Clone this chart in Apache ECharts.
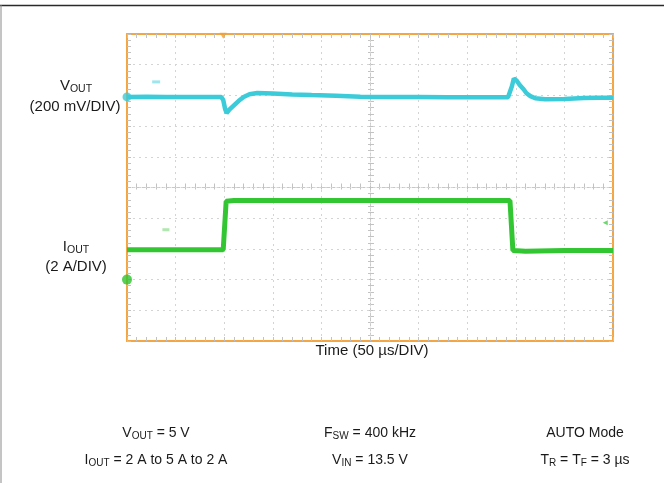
<!DOCTYPE html>
<html><head><meta charset="utf-8">
<script src="https://cdn.jsdelivr.net/npm/echarts@6/dist/echarts.min.js"></script>
<style>html,body{margin:0;padding:0;background:#fff;}#c{width:664px;height:483px;}</style>
</head><body><div id="c"></div>
<script>
// ---- data read from the scope capture (time in µs, 50 µs/div) ----
const voutTime = [0, 20, 40, 60, 80, 97, 99, 101, 102.5, 105, 110, 115, 120, 126, 134, 150, 170, 190, 215, 240, 270, 300, 330, 360, 392, 394, 396, 398, 401, 404, 408, 411, 415, 420, 430, 450, 470, 485, 500];
const voutMv   = [-10, -9, -11, -10, -10, -10, -30, -90, -115, -95, -65, -35, -10, 8, 16, 12, 6, 2, -2, -8, -10, -11, -12, -12, -12, -5, 60, 110, 95, 68, 40, 14, -5, -19, -25, -23, -17, -16, -15];
const ioutTime = [0, 50, 99, 102, 110, 200, 300, 394, 397, 410, 450, 500];
const ioutA    = [1.95, 1.95, 1.95, 5.1, 5.15, 5.15, 5.15, 5.15, 1.9, 1.85, 1.9, 1.9];
// scope markers: [time µs, value]
const voutRefMarker = [0, -10];
const ioutRefMarker = [0, 0];
const voutLevelMark = [30, 88];
const ioutLevelMark = [40, 3.25];
const ioutTrigArrow = [492, 3.7];
const trigPosMark   = [99, 388];
// axis scales
const timeRange = [0, 500], timeStep = 50;
const voutRange = [-1600, 400], voutStep = 200;
const ioutRange = [-4, 16], ioutStep = 2;
// text
const leftLabels = [
  ['{m|V}{s|OUT}', 76, 86], ['{m|(200 mV/DIV)}', 75, 106.5],
  ['{m|I}{s|OUT}', 76, 247], ['{m|(2 A/DIV)}', 76, 267]
];
const xAxisTitle = 'Time (50 µs/DIV)';
const condRow1 = ['{m|V}{s|OUT}{m| = 5 V}', '{m|F}{s|SW}{m| = 400 kHz}', '{m|AUTO Mode}'];
const condRow2 = ['{m|I}{s|OUT}{m| = 2 A to 5 A to 2 A}', '{m|V}{s|IN}{m| = 13.5 V}', '{m|T}{s|R}{m| = T}{s|F}{m| = 3 µs}'];

const F = '"Liberation Sans", Arial, sans-serif';
const ORANGE = '#f2a645', TICK = '#c2c2c2', GRIDC = '#d4d4d4';
const CYAN = '#3ccbd9', GREEN = '#33c633';

function zip(a, b) { return a.map((v, i) => [v, b[i]]); }

function axis(extra, range, step, opts) {
  return Object.assign({
    type: 'value', min: range[0], max: range[1], interval: step,
    axisLabel: { show: false },
    axisLine: { show: true, onZero: false, lineStyle: { color: ORANGE, width: 2 } },
    axisTick: { show: true, inside: true, length: 4, lineStyle: { color: TICK } },
    minorTick: { show: true, splitNumber: 5, length: 4, lineStyle: { color: TICK } },
    splitLine: { show: false },
    z: 1
  }, opts, extra);
}
const gridSplit = { show: true, lineStyle: { color: GRIDC, type: [2, 4], width: 1 } };
const centerLine = { show: true, onZero: false, lineStyle: { color: '#c8c8c8', width: 1, type: [3, 2] } };

const xAxes = [
  axis({ position: 'bottom', splitLine: gridSplit }, timeRange, timeStep),
  axis({ position: 'top' }, timeRange, timeStep),
  axis({ position: 'bottom', offset: -153.5, axisLine: centerLine, z: 0 }, timeRange, timeStep),
  axis({ position: 'bottom', offset: -153.5, axisLine: { show: false }, z: 0,
         axisTick: { show: true, inside: false, length: 2, lineStyle: { color: TICK } },
         minorTick: { show: true, splitNumber: 5, length: 2, lineStyle: { color: TICK } } }, timeRange, timeStep)
];
const yAxes = [
  axis({ position: 'left', splitLine: gridSplit }, voutRange, voutStep),
  axis({ position: 'right' }, ioutRange, ioutStep),
  axis({ position: 'left', offset: -243, axisLine: centerLine, z: 0 }, voutRange, voutStep),
  axis({ position: 'left', offset: -243, axisLine: { show: false }, z: 0,
         axisTick: { show: true, inside: false, length: 2, lineStyle: { color: TICK } },
         minorTick: { show: true, splitNumber: 5, length: 2, lineStyle: { color: TICK } } }, voutRange, voutStep)
];

function richText(text, x, y, size, subSize) {
  return {
    type: 'text', x: x, y: y, z: 10,
    style: {
      text: text, align: 'center', verticalAlign: 'middle',
      textAlign: 'center', textVerticalAlign: 'middle',
      fill: '#1a1a1a',
      rich: {
        m: { fontSize: size, fontFamily: F, fill: '#1a1a1a', color: '#1a1a1a', lineHeight: 20 },
        s: { fontSize: subSize, fontFamily: F, fill: '#1a1a1a', color: '#1a1a1a', lineHeight: 12, padding: [6, 0, 0, 0] }
      }
    }
  };
}

const graphics = [
  { type: 'line', shape: { x1: 0, y1: 5.5, x2: 664, y2: 5.5 }, style: { stroke: '#2a2a2a', lineWidth: 1.5 } },
  { type: 'line', shape: { x1: 1, y1: 5, x2: 1, y2: 483 }, style: { stroke: '#8a8a8a', lineWidth: 1 } }
];
leftLabels.forEach(l => graphics.push(richText(l[0], l[1], l[2], 15, 10.5)));
graphics.push(richText('{m|' + xAxisTitle + '}', 372, 351, 15, 10.5));
const colX = [156, 370, 585];
condRow1.forEach((t, i) => graphics.push(richText(t, colX[i], 433, 14, 10)));
condRow2.forEach((t, i) => graphics.push(richText(t, colX[i], 460, 14, 10)));

const chart = echarts.init(document.getElementById('c'), null, { renderer: 'canvas' });
chart.setOption({
  backgroundColor: '#ffffff',
  animation: false,
  grid: { left: 127, top: 34, width: 486, height: 307, outerBoundsMode: 'none', containLabel: false },
  xAxis: xAxes,
  yAxis: yAxes,
  graphic: graphics,
  series: [
    { type: 'line', name: 'VOUT', xAxisIndex: 0, yAxisIndex: 0, data: zip(voutTime, voutMv),
      showSymbol: false, symbol: 'none', lineStyle: { color: CYAN, width: 4.5 }, z: 3 },
    { type: 'line', name: 'IOUT', xAxisIndex: 0, yAxisIndex: 1, data: zip(ioutTime, ioutA),
      showSymbol: false, symbol: 'none', lineStyle: { color: GREEN, width: 5 }, z: 3 },
    { type: 'scatter', xAxisIndex: 0, yAxisIndex: 0, clip: false, z: 4,
      data: [
        { value: voutRefMarker, symbol: 'circle', symbolSize: 9, itemStyle: { color: CYAN } },
        { value: voutLevelMark, symbol: 'rect', symbolSize: [8, 3], itemStyle: { color: '#86e0e8' } },
        { value: trigPosMark, symbol: 'triangle', symbolSize: [7, 6], symbolRotate: 180, itemStyle: { color: '#f0a030' } }
      ] },
    { type: 'scatter', xAxisIndex: 0, yAxisIndex: 1, clip: false, z: 4,
      data: [
        { value: ioutRefMarker, symbol: 'circle', symbolSize: 10, itemStyle: { color: '#2ec42e' } },
        { value: ioutLevelMark, symbol: 'rect', symbolSize: [7, 3], itemStyle: { color: '#9ee29e' } },
        { value: ioutTrigArrow, symbol: 'triangle', symbolSize: [5, 5], symbolRotate: 90, itemStyle: { color: '#4ccc4c' } }
      ] }
  ]
});
</script></body></html>
